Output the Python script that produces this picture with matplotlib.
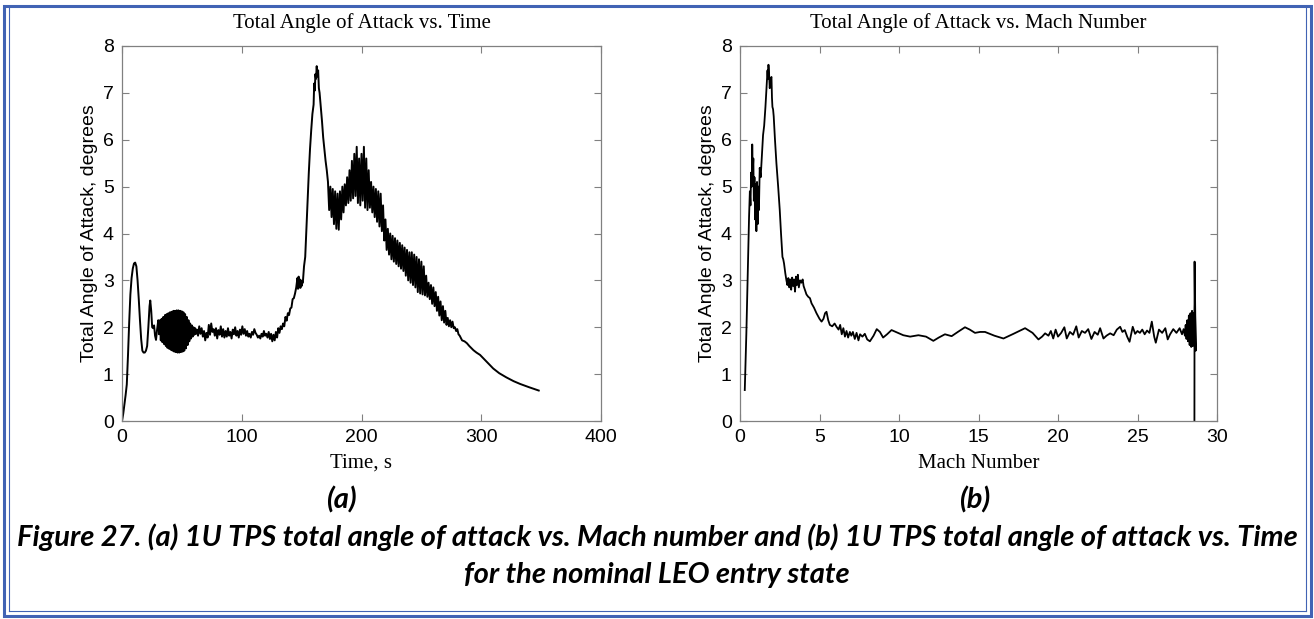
import matplotlib
matplotlib.use('Agg')
import matplotlib.pyplot as plt
from matplotlib.patches import Rectangle
from matplotlib.lines import Line2D

# Left panel: total angle of attack (deg) against time (s)
TIME_S = [
    0, 1, 2, 3, 4, 5, 6, 7, 8, 9, 10, 11, 12, 13, 14, 15, 16, 17, 18, 19, 20, 21, 22, 23,
    23.6, 24.4, 25.2, 26, 26.8, 27.6, 28.4, 29.3, 30.3, 31,
    31.7, 32.4, 33.1, 33.8, 34.5, 35.2, 35.9, 36.6, 37.3, 38.0, 38.7, 39.4, 40.1, 40.8,
    41.5, 42.2, 42.9, 43.6, 44.3, 45.0, 45.7, 46.4, 47.1, 47.8, 48.5, 49.2, 49.9, 50.6,
    51.3, 52.0, 52.7, 53.4, 54.1, 54.8, 55.5, 56.2, 56.9, 57.6, 58.3, 59.0, 59.7, 60.4,
    61.1, 61.8,
    62.5, 63.5, 64.5, 65.5, 66.5, 67.5, 68.5, 69.5, 70.5, 71.5, 72.5, 73.5, 74.5, 75.5,
    76.5, 77.5, 78.5, 79.5, 80.5, 81.5, 82.5, 83.5, 84.5, 85.5, 86.5, 87.5, 88.5, 89.5,
    90.5, 91.5, 92.5, 93.5, 94.5, 95.5, 96.5, 97.5, 98.5, 99.5, 100.5, 101.5, 102.5,
    103.5, 104.5, 105.5, 106.5, 107.5, 108.5, 109.5, 110.5, 111.5, 112.5, 113.5, 114.5,
    115.5, 116.5, 117.5, 118.5, 119.5, 120.5, 121.5, 122.5, 123.5, 124.5, 125.5, 126.5,
    127.5, 128.5, 129.5, 130.5, 131.5, 132.5,
    133.5, 134.5, 135.5, 136.5, 137.5, 138.5, 139.5, 140.5, 141.5, 142.5, 143.5, 144.5,
    145.5, 146.5, 147, 147.5, 148, 148.5, 149, 149.5, 150, 150.5, 151, 152, 153, 154, 155,
    156, 157, 158, 159, 160, 160.5, 161, 161.5, 162, 162.6, 163.2, 163.8, 164.4, 165, 166,
    167, 168, 169, 170, 171, 172,
    173, 174, 175, 176, 177, 178, 179, 180, 181, 182, 183, 184, 185, 186, 187, 188, 189,
    190, 191, 192, 193, 194, 195, 196, 197, 198, 199, 200, 201, 202, 203, 204, 205, 206,
    207, 208, 209, 210, 211, 212, 213, 214, 215, 216, 217, 218, 219, 220, 221, 222, 223,
    224, 225, 226, 227, 228, 229, 230, 231, 232, 233, 234, 235, 236, 237, 238, 239, 240,
    241, 242, 243, 244, 245, 246, 247, 248, 249, 250, 251, 252, 253, 254, 255, 256, 257,
    258, 259, 260, 261, 262, 263, 264, 265, 266, 267, 268, 269, 270, 271, 272, 273, 274,
    275, 276, 277,
    278, 279, 280, 281, 282, 284, 286, 288, 290, 293.5, 296, 299, 305, 310, 315, 321, 327,
    332.5, 340, 348,
]
AOA_TIME = [
    0, 0.15, 0.35, 0.55, 0.78, 1.4, 2.1, 2.7, 3.05, 3.25, 3.36, 3.38, 3.3, 3.0, 2.6, 2.15,
    1.75, 1.5, 1.46, 1.46, 1.5, 1.6, 2.0, 2.45,
    2.57, 2.35, 2.0, 1.98, 2.04, 1.82, 1.73, 1.95, 2.15, 1.85,
    2.15, 1.72, 2.18, 1.68, 2.22, 1.64, 2.26, 1.60, 2.28, 1.56, 2.30, 1.54, 2.32, 1.52,
    2.33, 1.50, 2.35, 1.48, 2.35, 1.47, 2.36, 1.46, 2.36, 1.46, 2.35, 1.47, 2.34, 1.48,
    2.32, 1.50, 2.28, 1.55, 2.22, 1.62, 2.15, 1.70, 2.08, 1.76, 2.04, 1.80, 2.00, 1.84,
    1.98, 1.86,
    1.95, 1.82, 2.02, 1.86, 1.98, 1.80, 1.92, 1.72, 1.88, 1.78, 2.05, 1.84, 2.08, 1.90,
    1.96, 1.82, 1.98, 1.76, 1.94, 1.84, 2.02, 1.80, 1.96, 1.78, 1.92, 1.80, 1.98, 1.82,
    1.90, 1.76, 1.95, 1.85, 2.00, 1.82, 1.92, 1.78, 1.95, 1.84, 2.02, 1.86, 1.96,
    1.82, 1.92, 1.80, 1.86, 1.78, 1.90, 1.84, 1.96, 1.88, 1.84, 1.78, 1.82,
    1.76, 1.86, 1.80, 1.92, 1.82, 1.86, 1.78, 1.90, 1.75, 1.86, 1.70, 1.84,
    1.72, 1.90, 1.78, 1.98, 1.88, 2.02,
    1.96, 2.08, 2.02, 2.22, 2.14, 2.30, 2.26, 2.40, 2.42, 2.60, 2.62, 2.72,
    2.85, 3.05, 2.82, 3.08, 2.85, 3.02, 2.84, 3.00, 2.88, 2.96, 2.95, 3.30, 3.50, 4.10, 4.70,
    5.30, 5.80, 6.20, 6.55, 6.75, 7.20, 7.05, 7.40, 7.30, 7.57, 7.35, 7.48, 7.10, 7.00, 6.70,
    6.40, 6.05, 5.80, 5.55, 5.35, 5.10,
    4.50, 5.00, 4.35, 4.95, 4.20, 4.90, 4.10, 4.85, 4.08, 4.90, 4.30, 5.00, 4.45, 5.05, 4.60,
    5.20, 4.65, 5.35, 4.70, 5.55, 4.75, 5.70, 4.80, 5.85, 4.65, 5.60, 4.60, 5.70, 4.70, 5.85,
    4.55, 5.60, 4.50, 5.35, 4.55, 5.10, 4.45, 5.00, 4.35, 4.95, 4.25, 4.90, 4.15, 4.85, 4.05,
    4.60, 3.85, 4.30, 3.65, 4.10, 3.55, 4.00, 3.45, 3.95, 3.40, 3.90, 3.35, 3.85, 3.30, 3.80,
    3.25, 3.75, 3.20, 3.70, 3.10, 3.65, 3.00, 3.60, 2.95, 3.60, 2.90, 3.55, 2.85, 3.50, 2.75,
    3.45, 2.72, 3.40, 2.70, 3.30, 2.68, 3.10, 2.65, 2.95, 2.60, 2.90, 2.50, 2.85, 2.45, 2.75,
    2.35, 2.65, 2.25, 2.55, 2.15, 2.45, 2.10, 2.35, 2.05, 2.20, 2.02, 2.15, 2.00, 2.12, 1.98,
    2.00, 1.92, 1.96, 1.85, 1.82, 1.72, 1.70, 1.66, 1.60, 1.51, 1.46, 1.41, 1.25, 1.12, 1.02,
    0.93, 0.85, 0.79, 0.72, 0.65,
]

# Right panel: total angle of attack (deg) against Mach number
MACH = [
    0.30, 0.40, 0.50, 0.57, 0.62, 0.66, 0.70, 0.74, 0.77, 0.80, 0.84, 0.87, 0.91, 0.95, 0.99,
    1.03, 1.07, 1.11, 1.15, 1.19, 1.24, 1.30, 1.38, 1.45, 1.52, 1.60, 1.67, 1.73, 1.76, 1.79,
    1.83, 1.87, 1.92, 1.98, 2.01, 2.04, 2.08, 2.12, 2.20, 2.29, 2.40, 2.50, 2.58, 2.67, 2.72,
    2.77, 2.85, 2.92, 2.98, 3.04, 3.10, 3.16, 3.22, 3.28, 3.34, 3.40, 3.46, 3.52, 3.58, 3.64,
    3.70, 3.78, 3.86, 3.94, 4.00, 4.10, 4.18, 4.29, 4.40, 4.50, 4.65, 4.81, 5.00, 5.13, 5.25,
    5.35, 5.44, 5.55, 5.65, 5.80, 5.95, 6.07, 6.20, 6.30, 6.40, 6.50, 6.60, 6.70, 6.80, 6.91,
    7.00, 7.10, 7.22, 7.33, 7.45, 7.55, 7.70, 7.85, 8.00, 8.17, 8.40, 8.60, 8.80, 9.00, 9.25,
    9.53, 9.80, 10.27, 10.70, 11.22, 11.70, 12.16, 12.50, 12.89, 13.31, 13.70, 14.15, 14.45,
    14.78, 15.10, 15.41, 16.00, 16.57, 17.20, 17.93, 18.40, 18.77, 19.00, 19.19, 19.40, 19.55,
    19.70, 19.85, 20.00, 20.20, 20.40, 20.55, 20.75, 20.95, 21.15, 21.30, 21.50, 21.70, 21.90,
    22.10, 22.30, 22.50, 22.65, 22.86, 23.05, 23.28, 23.50, 23.70, 23.91, 24.05, 24.20, 24.35,
    24.50, 24.70, 24.85, 25.00, 25.15, 25.30, 25.45, 25.60, 25.75, 25.90, 26.05, 26.15, 26.35,
    26.55, 26.75, 26.90, 27.05, 27.25, 27.45, 27.65, 27.80, 27.90, 27.98, 28.03, 28.08, 28.13,
    28.18, 28.23, 28.28, 28.33, 28.38, 28.43, 28.48, 28.52, 28.56, 28.62, 28.66, 28.62, 28.59,
    28.58,
]
AOA_MACH = [
    0.66, 1.87, 3.36, 4.36, 4.90, 4.60, 5.30, 5.00, 5.90, 5.30, 5.60, 4.70, 5.20, 4.30, 5.05,
    4.05, 5.10, 4.20, 5.00, 4.50, 5.40, 5.20, 5.70, 6.10, 6.30, 6.70, 7.10, 7.48, 7.30, 7.60,
    7.40, 7.10, 7.30, 7.34, 6.90, 6.70, 6.65, 6.50, 6.00, 5.50, 5.00, 4.50, 4.00, 3.50, 3.45,
    3.36, 3.15, 3.00, 2.90, 3.05, 2.85, 3.02, 2.80, 3.06, 2.88, 3.02, 2.76, 3.08, 2.90, 3.12,
    2.85, 3.00, 2.95, 3.02, 2.88, 2.78, 2.70, 2.65, 2.62, 2.51, 2.42, 2.30, 2.18, 2.12, 2.18,
    2.30, 2.33, 2.15, 2.05, 2.02, 2.08, 2.01, 1.95, 2.05, 1.85, 1.98, 1.80, 1.92, 1.78, 1.90,
    1.82, 1.90, 1.75, 1.88, 1.72, 1.85, 1.80, 1.86, 1.74, 1.70, 1.82, 1.96, 1.90, 1.78, 1.85,
    1.94, 1.90, 1.83, 1.80, 1.83, 1.80, 1.71, 1.78, 1.85, 1.81, 1.90, 2.00, 1.95,
    1.88, 1.90, 1.90, 1.82, 1.76, 1.86, 1.98, 1.88, 1.74, 1.80, 1.87, 1.82, 1.92,
    1.76, 1.95, 1.80, 1.88, 2.00, 1.76, 1.90, 1.84, 2.02, 1.78, 1.92, 1.88, 1.96,
    1.75, 1.90, 1.84, 1.98, 1.76, 1.82, 1.87, 1.83, 1.95, 2.01, 1.90, 1.94, 1.80,
    1.69, 2.01, 1.86, 1.92, 1.88, 1.95, 1.85, 1.93, 1.88, 2.12, 1.80, 1.67, 1.95,
    1.88, 1.98, 1.74, 1.85, 1.96, 1.88, 1.98, 1.85, 1.96, 1.82, 2.05, 1.75, 2.15,
    1.70, 2.25, 1.62, 2.30, 1.58, 2.35, 1.60, 2.30, 1.65, 2.65, 1.50, 2.30, 3.40,
    0.00,
]

TIME_TICKS = [0, 100, 200, 300, 400]
MACH_TICKS = [0, 5, 10, 15, 20, 25, 30]
AOA_TICKS = [0, 1, 2, 3, 4, 5, 6, 7, 8]

W, H = 1314, 619
BLUE = '#4163b4'
SPINE = '#808080'


def style_axes(ax, xticks, xmax):
    ax.set_xlim(0, xmax)
    ax.set_ylim(0, 8)
    ax.set_xticks(xticks)
    ax.set_yticks(AOA_TICKS)
    ax.tick_params(direction='in', top=True, right=True, length=5, width=0.8,
                   color=SPINE, labelsize=14, pad=6)
    for lab in ax.get_xticklabels() + ax.get_yticklabels():
        lab.set_family('Liberation Sans')
    for sp in ax.spines.values():
        sp.set_color(SPINE)
        sp.set_linewidth(0.9)


def main():
    fig = plt.figure(figsize=(W / 100, H / 100), dpi=100)
    fig.patch.set_facecolor('white')

    # axes boxes in pixels: left 122-601, right 740-1217, both 46-421 vertically
    ax1 = fig.add_axes([122 / W, 1 - 421 / H, 479 / W, 375 / H])
    ax2 = fig.add_axes([740 / W, 1 - 421 / H, 477 / W, 375 / H])

    ax1.plot(TIME_S, AOA_TIME, color='black', linewidth=1.4)
    ax2.plot(MACH, AOA_MACH, color='black', linewidth=1.3)

    style_axes(ax1, TIME_TICKS, 400)
    style_axes(ax2, MACH_TICKS, 30)

    serif = 'Liberation Serif'
    for ax, title, xlabel in [(ax1, 'Total Angle of Attack vs. Time', 'Time, s'),
                              (ax2, 'Total Angle of Attack vs. Mach Number', 'Mach Number')]:
        ax.set_title(title, family=serif, fontsize=15, pad=13)
        ax.set_xlabel(xlabel, family=serif, fontsize=15)
        ax.xaxis.set_label_coords(0.5, -0.088)
        ax.set_ylabel('Total Angle of Attack, degrees', family='Liberation Sans', fontsize=14)
        ax.yaxis.set_label_coords(-0.05, 0.5)

    cap = dict(family=['Lato', 'DejaVu Sans'], weight='bold', style='italic', fontsize=21)
    fig.text(341 / W, 1 - 500 / H, '(a)', ha='center', va='center', **cap)
    fig.text(975 / W, 1 - 500 / H, '(b)', ha='center', va='center', **cap)
    fig.text(0.5, 1 - 537 / H,
             'Figure 27. (a) 1U TPS total angle of attack vs. Mach number and '
             '(b) 1U TPS total angle of attack vs. Time',
             ha='center', va='center', **cap)
    fig.text(0.5, 1 - 575 / H, 'for the nominal LEO entry state',
             ha='center', va='center', **cap)

    # page border like the document frame: thick outer box, thin inner lines at the sides
    fig.add_artist(Rectangle((4 / W, 1 - 616 / H), 1307 / W, 610 / H, transform=fig.transFigure,
                             fill=False, edgecolor=BLUE, linewidth=2.2))
    for xs, ys in [([9, 9], [8, 611]), ([1306, 1306], [8, 611]), ([9, 1306], [611, 611])]:
        fig.add_artist(Line2D([x / W for x in xs], [1 - y / H for y in ys],
                              transform=fig.transFigure, color=BLUE, linewidth=0.8))

    fig.savefig('out.png', dpi=100)


if __name__ == '__main__':
    main()
